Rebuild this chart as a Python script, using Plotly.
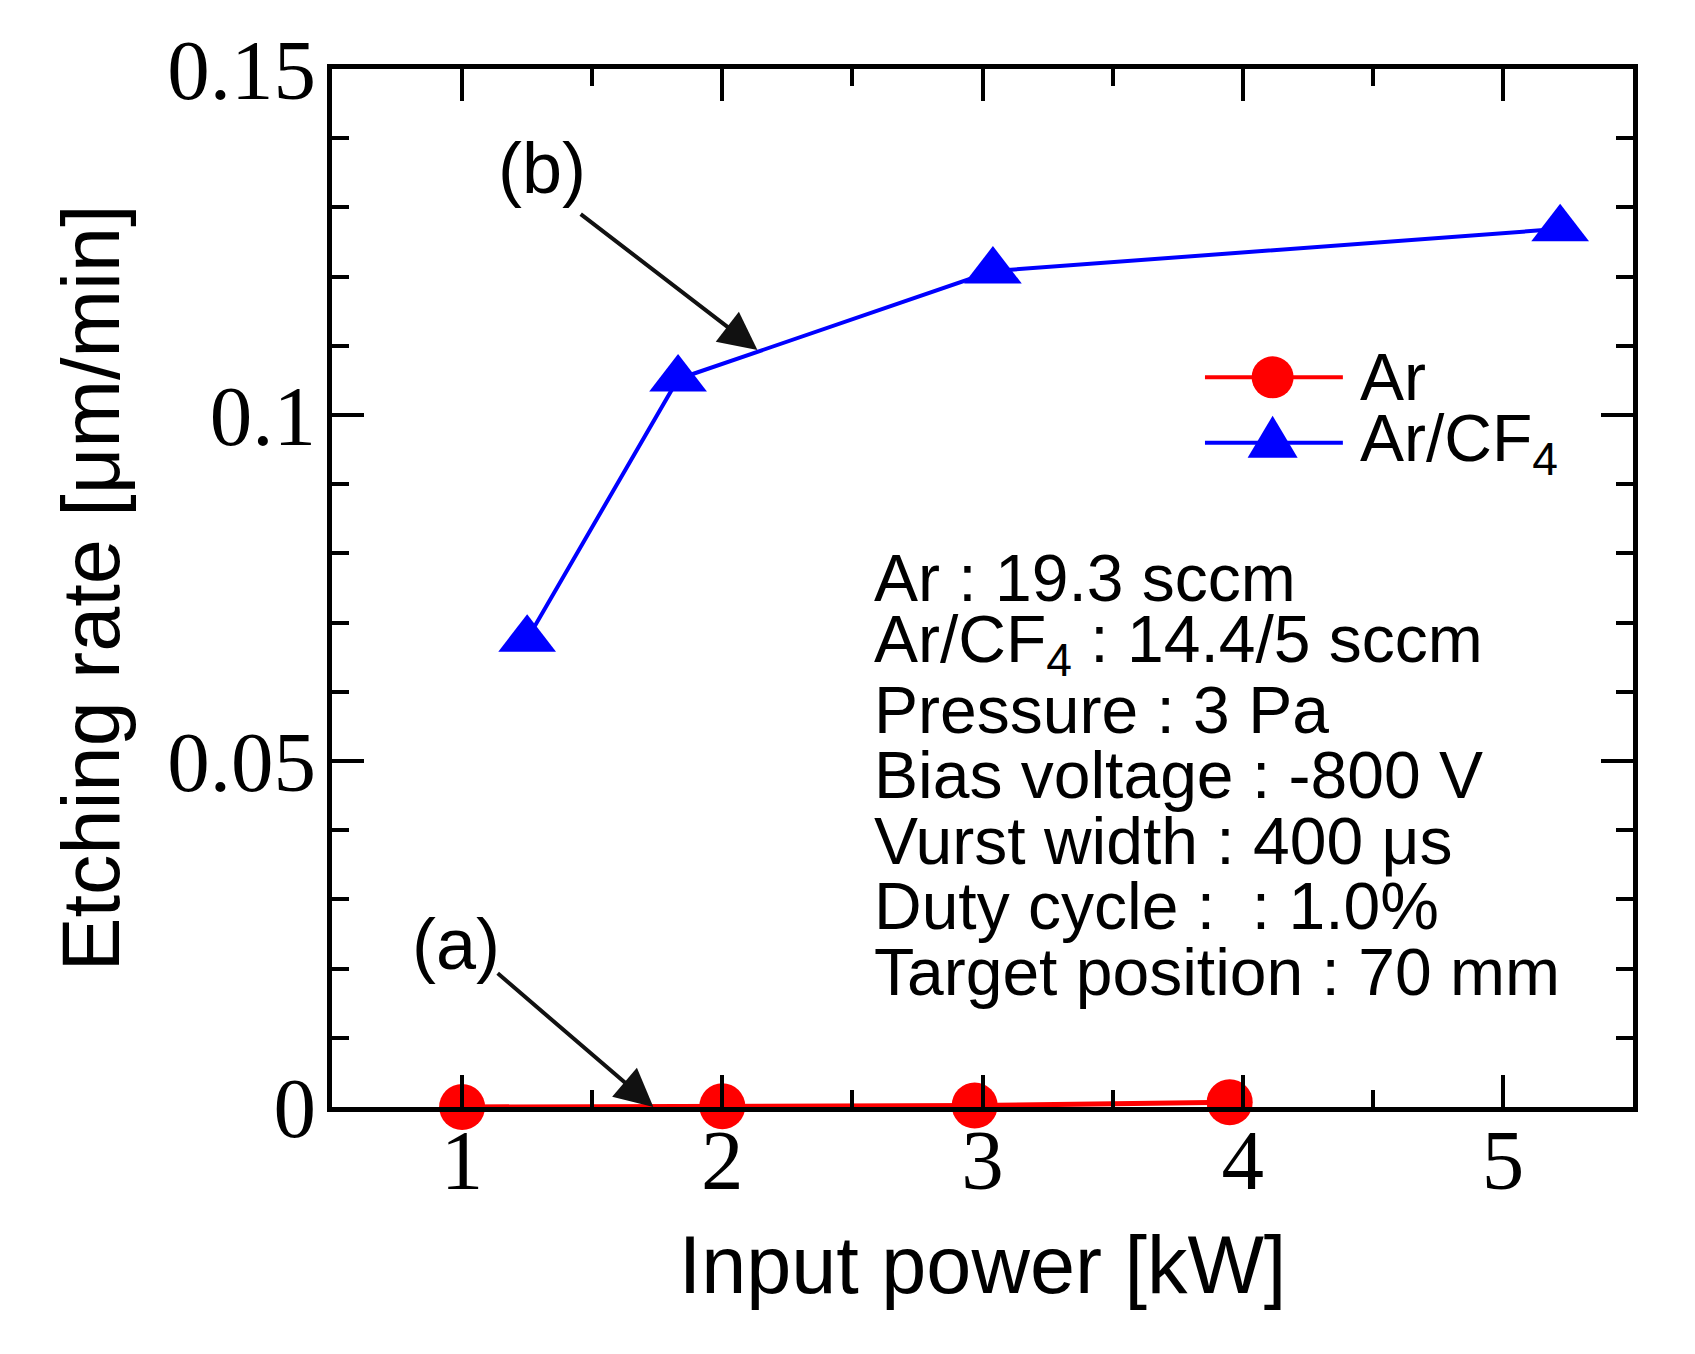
import plotly.graph_objects as go

# data
ar_power = [1.0, 2.0, 2.97, 3.95]
ar_rate = [0.0, 0.0001, 0.0002, 0.0007]

cf4_power = [1.25, 1.83, 3.04, 5.22]
cf4_rate = [0.0676, 0.1052, 0.1208, 0.1269]

x_ticks = [1, 2, 3, 4, 5]
y_ticks = [0, 0.05, 0.1, 0.15]
y_ticktext = ["0", "0.05", "0.1", "0.15"]

conditions = [
    "Ar : 19.3 sccm",
    "Ar/CF<sub>4</sub> : 14.4/5 sccm",
    "Pressure : 3 Pa",
    "Bias voltage : -800 V",
    "Vurst width : 400 \u03bcs",
    "Duty cycle :  : 1.0%",
    "Target position : 70 mm",
]

SANS = "Liberation Sans, Arial, sans-serif"
SERIF = "Liberation Serif, Times New Roman, serif"
RED = "#ff0000"
BLUE = "#0000ff"

fig = go.Figure()
fig.add_trace(go.Scatter(x=ar_power, y=ar_rate, mode="lines+markers", name="Ar",
                         line=dict(color=RED, width=5),
                         marker=dict(symbol="circle", size=46, color=RED),
                         cliponaxis=False, showlegend=False))
fig.add_trace(go.Scatter(x=cf4_power, y=cf4_rate, mode="lines+markers", name="Ar/CF4",
                         line=dict(color=BLUE, width=4),
                         marker=dict(symbol="triangle-up", size=50, color=BLUE),
                         cliponaxis=False, showlegend=False))

axis_common = dict(showline=True, linecolor="black", linewidth=5, mirror="allticks",
                   ticks="inside", ticklen=32, tickwidth=4, tickcolor="black",
                   showgrid=False, zeroline=False,
                   tickfont=dict(family=SERIF, size=85, color="black"))

fig.update_xaxes(range=[0.5, 5.5], tickvals=x_ticks,
                 minor=dict(dtick=0.5, ticks="inside", ticklen=17, tickwidth=4, tickcolor="black"),
                 title=dict(text="Input power [kW]", font=dict(family=SANS, size=81, color="black"),
                            standoff=32),
                 ticklabelstandoff=-25,
                 **axis_common)
fig.update_yaxes(range=[0, 0.15], tickvals=y_ticks, ticktext=y_ticktext,
                 minor=dict(dtick=0.01, ticks="inside", ticklen=17, tickwidth=4, tickcolor="black"),
                 title=dict(text="Etching rate [\u03bcm/min]", font=dict(family=SANS, size=81, color="black"),
                            standoff=22),
                 ticklabelstandoff=-6,
                 **axis_common)

# labels with arrows
fig.add_annotation(x=2.135, y=0.1094, ax=1.45, ay=0.1292, axref="x", ayref="y",
                   text="", showarrow=True, arrowhead=2, arrowsize=1.9, arrowwidth=4,
                   arrowcolor="#111111", standoff=0)
fig.add_annotation(x=1.735, y=0.0, ax=1.131, ay=0.0195, axref="x", ayref="y",
                   text="", showarrow=True, arrowhead=2, arrowsize=1.9, arrowwidth=4,
                   arrowcolor="#111111", standoff=0)
fig.add_annotation(x=1.308, y=0.1357, text="(b)", showarrow=False,
                   font=dict(family=SANS, size=72, color="black"))
fig.add_annotation(x=0.977, y=0.0236, text="(a)", showarrow=False,
                   font=dict(family=SANS, size=72, color="black"))

# experimental conditions block
for i, line in enumerate(conditions):
    fig.add_annotation(x=2.577, y=0.0764 - i * 0.00948, text=line, showarrow=False,
                       xanchor="left", yanchor="middle",
                       font=dict(family=SANS, size=66, color="black"))

# hand-drawn legend (large keys like the original)
leg_x0, leg_x1, leg_mid, leg_txt = 0.671, 0.777, 0.723, 0.789
leg_rows = [0.703, 0.640]
fig.add_shape(type="line", xref="paper", yref="paper", x0=leg_x0, x1=leg_x1,
              y0=leg_rows[0], y1=leg_rows[0], line=dict(color=RED, width=4))
fig.add_shape(type="circle", xref="paper", yref="paper", xsizemode="pixel", ysizemode="pixel",
              xanchor=leg_mid, yanchor=leg_rows[0], x0=-21, x1=21, y0=-21, y1=21,
              fillcolor=RED, line=dict(width=0))
fig.add_shape(type="line", xref="paper", yref="paper", x0=leg_x0, x1=leg_x1,
              y0=leg_rows[1], y1=leg_rows[1], line=dict(color=BLUE, width=4))
fig.add_shape(type="path", xref="paper", yref="paper", xsizemode="pixel", ysizemode="pixel",
              xanchor=leg_mid, yanchor=leg_rows[1], path="M-25,-15 L25,-15 L0,27 Z",
              fillcolor=BLUE, line=dict(width=0))
fig.add_annotation(x=leg_txt, y=leg_rows[0], xref="paper", yref="paper", text="Ar",
                   showarrow=False, xanchor="left", yanchor="middle",
                   font=dict(family=SANS, size=66, color="black"))
fig.add_annotation(x=leg_txt, y=leg_rows[1], xref="paper", yref="paper", text="Ar/CF<sub>4</sub>",
                   showarrow=False, xanchor="left", yanchor="middle",
                   font=dict(family=SANS, size=66, color="black"))

# page body adds an 8px offset, so margins are trimmed on the top/left
fig.update_layout(width=1695, height=1354, margin=dict(l=324, r=70, t=61, b=255),
                  paper_bgcolor="white", plot_bgcolor="white", showlegend=False)

fig.write_html("out.html")
